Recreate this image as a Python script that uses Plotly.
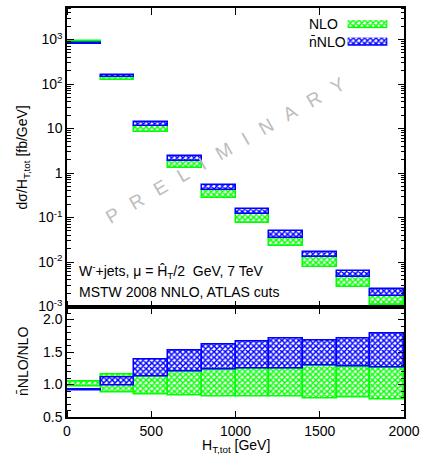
import plotly.graph_objects as go

# H_T,tot bins [GeV]
bin_lo = [0, 200, 400, 600, 800, 1000, 1200, 1400, 1600, 1800]
bin_hi = [200, 400, 600, 800, 1000, 1200, 1400, 1600, 1800, 2000]

# dsigma/dH_T,tot [fb/GeV]: scale-variation bands
nlo_lo = [870, 125, 8.4, 1.32, 0.28, 0.075, 0.0232, 0.0077, 0.0028, 0.00107]
nlo_hi = [950, 144, 11.2, 1.87, 0.42, 0.118, 0.0355, 0.0127, 0.0047, 0.00174]
nnlo_lo = [810, 142, 11.2, 1.87, 0.42, 0.118, 0.0355, 0.0127, 0.0047, 0.00174]
nnlo_hi = [845, 162, 14.2, 2.42, 0.55, 0.156, 0.049, 0.0165, 0.0063, 0.00245]

# ratio to NLO
r_nlo_lo = [0.97, 0.88, 0.85, 0.835, 0.82, 0.82, 0.81, 0.79, 0.80, 0.775]
r_nlo_hi = [1.05, 1.15, 1.125, 1.195, 1.23, 1.25, 1.25, 1.285, 1.275, 1.26]
r_nnlo_lo = [0.90, 0.99, 1.125, 1.195, 1.23, 1.25, 1.25, 1.285, 1.275, 1.26]
r_nnlo_hi = [0.93, 1.105, 1.385, 1.52, 1.615, 1.66, 1.70, 1.68, 1.71, 1.785]

log_ticks = [1e-3, 1e-2, 1e-1, 1, 10, 100, 1000]
log_labels = ["10<sup>-3</sup>", "10<sup>-2</sup>", "10<sup>-1</sup>", "1", "10",
              "10<sup>2</sup>", "10<sup>3</sup>"]
ratio_ticks = [0.5, 1.0, 1.5, 2.0]
x_ticks = [0, 500, 1000, 1500, 2000]

# minor tick positions: 2..9 per decade on the log axis, 0.1 steps on the ratio axis
log_minor = [k * 10.0 ** e for e in range(-3, 4) for k in range(2, 10)]
ratio_minor = [round(0.5 + 0.1 * i, 1) for i in range(18)]

GREEN = "#00ff00"
BLUE = "#0000ff"
FONT = "Liberation Sans, Arial, Helvetica, sans-serif"

W_PLOT = 342.0   # plot-area width in px
H_PLOT = 411.0   # plot-area height in px
MAJOR = 7        # major tick length, px
MINOR = 4        # minor tick length, px

centers = [(a + b) / 2 for a, b in zip(bin_lo, bin_hi)]
widths = [b - a for a, b in zip(bin_lo, bin_hi)]


def band(lo, hi, color, xa, ya, name, x=None, w=None):
    return go.Bar(
        x=centers if x is None else x, base=lo, y=[h - l for l, h in zip(lo, hi)],
        width=widths if w is None else w,
        xaxis=xa, yaxis=ya, name=name, showlegend=False,
        marker=dict(color="white", line=dict(color=color, width=1.5),
                    pattern=dict(shape="x", fgcolor=color, bgcolor="white",
                                 size=4, solidity=0.6, fillmode="replace")),
        hoverinfo="skip",
    )


fig = go.Figure()
fig.add_trace(band(nlo_lo, nlo_hi, GREEN, "x", "y", "NLO"))
fig.add_trace(band(nnlo_lo, nnlo_hi, BLUE, "x", "y", "nNLO"))
fig.add_trace(band(r_nlo_lo, r_nlo_hi, GREEN, "x2", "y2", "NLO"))
fig.add_trace(band(r_nnlo_lo, r_nnlo_hi, BLUE, "x2", "y2", "nNLO"))

# key swatches, each filling its own small axis
fig.add_trace(band([0], [1], GREEN, "x3", "y3", "NLO key", x=[0.5], w=[1]))
fig.add_trace(band([0], [1], BLUE, "x4", "y4", "nNLO key", x=[0.5], w=[1]))

axis_common = dict(showline=True, linecolor="black", linewidth=1.5, mirror=True,
                   ticks="", showgrid=False, zeroline=False,
                   tickfont=dict(family=FONT, size=14, color="black"))

split = 111 / 411
log_range = [-3, 3.71]
ratio_range = [0.5, 2.2]
x_range = [0, 2000]

layout_axes = dict(
    xaxis=dict(axis_common, domain=[0, 1], range=x_range, anchor="y",
               tickmode="array", tickvals=x_ticks, showticklabels=False),
    yaxis=dict(axis_common, domain=[split, 1], type="log", range=log_range,
               anchor="x", tickmode="array", tickvals=log_ticks, ticktext=log_labels),
    xaxis2=dict(axis_common, domain=[0, 1], range=x_range, anchor="y2",
                tickmode="array", tickvals=x_ticks),
    yaxis2=dict(axis_common, domain=[0, split], range=ratio_range, anchor="x2",
                tickmode="array", tickvals=ratio_ticks, tickformat=".1f"),
    xaxis3=dict(domain=[0.833, 0.951], range=[0, 1], anchor="y3", visible=False),
    yaxis3=dict(domain=[0.950, 0.970], range=[0, 1], anchor="x3", visible=False),
    xaxis4=dict(domain=[0.833, 0.951], range=[0, 1], anchor="y4", visible=False),
    yaxis4=dict(domain=[0.907, 0.927], range=[0, 1], anchor="x4", visible=False),
)

# Frame ticks: label-free overlay axes set just inside each frame edge, with
# "outside" ticks of the same length reaching back to the edge.
# (overlaid axis, edge side, edge position, offset direction, values, length, extra)
frame_ticks = [
    ("y", "left", 0.0, +1, log_ticks, MAJOR, dict(type="log", range=log_range)),
    ("y", "left", 0.0, +1, log_minor, MINOR, dict(type="log", range=log_range)),
    ("y", "right", 1.0, -1, log_ticks, MAJOR, dict(type="log", range=log_range)),
    ("y", "right", 1.0, -1, log_minor, MINOR, dict(type="log", range=log_range)),
    ("y2", "left", 0.0, +1, ratio_ticks, MAJOR, dict(range=ratio_range)),
    ("y2", "left", 0.0, +1, ratio_minor, MINOR, dict(range=ratio_range)),
    ("y2", "right", 1.0, -1, ratio_ticks, MAJOR, dict(range=ratio_range)),
    ("y2", "right", 1.0, -1, ratio_minor, MINOR, dict(range=ratio_range)),
    ("x", "bottom", split, +1, x_ticks, MAJOR, dict(range=x_range)),
    ("x", "top", 1.0, -1, x_ticks, MAJOR, dict(range=x_range)),
    ("x2", "bottom", 0.0, +1, x_ticks, MAJOR, dict(range=x_range)),
    ("x2", "top", split, -1, x_ticks, MAJOR, dict(range=x_range)),
]

n_y, n_x = 5, 5
for over, side, pos, sgn, vals, length, extra in frame_ticks:
    letter = over[0]
    span = W_PLOT if letter == "y" else H_PLOT
    ax = dict(overlaying=over, anchor="free", side=side,
              position=pos + sgn * length / span,
              showline=False, showgrid=False, zeroline=False, showticklabels=False,
              ticks="outside", ticklen=length, tickwidth=1.3 if length == MAJOR else 1,
              tickcolor="black", tickmode="array", tickvals=vals, **extra)
    if letter == "y":
        name = f"yaxis{n_y}"
        fig.add_trace(go.Scatter(x=[], y=[], xaxis="x" if over == "y" else "x2",
                                 yaxis=f"y{n_y}", showlegend=False, hoverinfo="skip"))
        n_y += 1
    else:
        name = f"xaxis{n_x}"
        fig.add_trace(go.Scatter(x=[], y=[], xaxis=f"x{n_x}",
                                 yaxis="y" if over == "x" else "y2",
                                 showlegend=False, hoverinfo="skip"))
        n_x += 1
    layout_axes[name] = ax

fig.update_layout(
    width=426, height=461,
    margin=dict(l=67, r=17, t=6, b=44),
    plot_bgcolor="rgba(0,0,0,0)", paper_bgcolor="white",
    barmode="overlay", bargap=0,
    showlegend=False,
    **layout_axes,
)

txt = dict(family=FONT, size=14, color="black")
annotations = [
    dict(text="NLO", x=0.713, y=0.960, xanchor="left", yanchor="middle", font=txt),
    dict(text="n\u0304NLO", x=0.713, y=0.916, xanchor="left", yanchor="middle", font=txt),
    dict(text="W<sup>-</sup>+jets, \u03bc = H\u0302<sub>T</sub>/2\u00a0\u00a0GeV, 7 TeV",
         x=0.029, y=0.356, xanchor="left", yanchor="middle", font=txt),
    dict(text="MSTW 2008 NNLO, ATLAS cuts",
         x=0.029, y=0.305, xanchor="left", yanchor="middle", font=txt),
    dict(text="d\u03c3/H<sub>T,tot</sub> [fb/GeV]", x=-0.13, y=(split + 1) / 2,
         textangle=-90, xanchor="center", yanchor="middle", font=txt),
    dict(text="n\u0304NLO/NLO", x=-0.13, y=split / 2,
         textangle=-90, xanchor="center", yanchor="middle", font=txt),
    dict(text="H<sub>T,tot</sub> [GeV]", x=0.5, y=-0.072,
         xanchor="center", yanchor="middle", font=txt),
    dict(text="\u00a0\u00a0\u2009".join("PRELIMINARY"), x=0.469, y=0.652,
         textangle=-30, xanchor="center", yanchor="middle",
         font=dict(family=FONT, size=19, color="#bdbdbd")),
]
for a in annotations:
    a.update(xref="paper", yref="paper", showarrow=False)
fig.update_layout(annotations=annotations)

fig.write_html("out.html")
